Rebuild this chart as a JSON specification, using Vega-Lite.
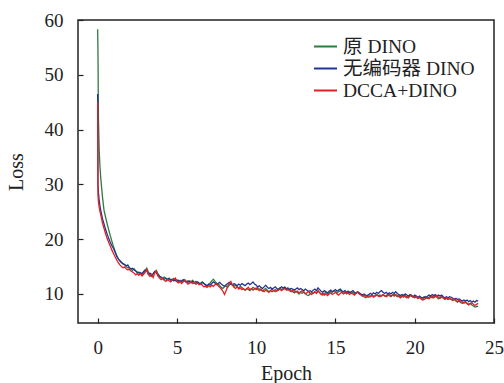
{
  "$schema": "https://vega.github.io/schema/vega-lite/v6.json",
  "width": 416,
  "height": 303,
  "autosize": {"type": "none"},
  "padding": {"left": 78, "top": 20, "right": 10, "bottom": 60},
  "background": "white",
  "config": {
    "view": {"stroke": "#222", "strokeWidth": 1.5},
    "font": "Liberation Serif, Noto Sans CJK SC",
    "axis": {
      "domain": false,
      "grid": false,
      "tickColor": "#222",
      "tickSize": -5,
      "tickWidth": 1.2,
      "labelFont": "Liberation Serif",
      "labelFontSize": 19,
      "labelColor": "#222",
      "titleFont": "Liberation Serif",
      "titleFontSize": 20,
      "titleFontWeight": "normal",
      "titleColor": "#222",
      "labelFlush": false,
      "labelOverlap": false
    },
    "legend": {
      "labelFont": "Liberation Serif, Noto Sans CJK SC",
      "labelFontSize": 19.5,
      "labelColor": "#222",
      "padding": 0
    }
  },
  "data": {
    "values": [
      {"e":0,"g":58.3,"b":46.5,"r":45.0},
      {"e":0.02,"g":54.0,"b":30.0,"r":28.0},
      {"e":0.05,"g":42.0,"b":28.5,"r":26.8},
      {"e":0.1,"g":36.0,"b":27.0,"r":25.8},
      {"e":0.15,"g":33.0,"b":26.0,"r":25.0},
      {"e":0.2,"g":31.0,"b":25.2,"r":24.4},
      {"e":0.3,"g":27.8,"b":23.8,"r":23.0},
      {"e":0.4,"g":25.3,"b":22.8,"r":22.0},
      {"e":0.5,"g":24.0,"b":21.8,"r":21.0},
      {"e":0.6,"g":22.8,"b":20.9,"r":20.1},
      {"e":0.7,"g":21.7,"b":20.1,"r":19.4},
      {"e":0.8,"g":20.6,"b":19.4,"r":18.7},
      {"e":0.9,"g":19.6,"b":18.8,"r":18.0},
      {"e":1.0,"g":18.6,"b":18.3,"r":17.4},
      {"e":1.1,"g":17.8,"b":17.6,"r":16.8},
      {"e":1.2,"g":17.0,"b":16.9,"r":16.2},
      {"e":1.3,"g":16.4,"b":16.4,"r":15.7},
      {"e":1.4,"g":16.0,"b":16.1,"r":15.3},
      {"e":1.5,"g":15.7,"b":15.8,"r":15.0},
      {"e":1.6,"g":15.5,"b":15.5,"r":14.8},
      {"e":1.7,"g":15.3,"b":15.4,"r":14.9},
      {"e":1.8,"g":15.0,"b":15.1,"r":14.6},
      {"e":1.9,"g":14.8,"b":15.3,"r":14.4},
      {"e":2.0,"g":14.7,"b":14.8,"r":14.5},
      {"e":2.1,"g":14.5,"b":14.6,"r":14.2},
      {"e":2.2,"g":14.3,"b":14.7,"r":14.0},
      {"e":2.3,"g":14.6,"b":14.4,"r":13.8},
      {"e":2.4,"g":14.2,"b":14.2,"r":13.5},
      {"e":2.5,"g":13.8,"b":14.0,"r":13.7},
      {"e":2.6,"g":14.0,"b":13.8,"r":13.4},
      {"e":2.7,"g":13.6,"b":13.9,"r":13.8},
      {"e":2.8,"g":13.4,"b":13.7,"r":13.3},
      {"e":2.9,"g":13.8,"b":14.1,"r":13.6},
      {"e":3.0,"g":14.2,"b":14.4,"r":14.0},
      {"e":3.1,"g":14.7,"b":14.2,"r":14.5},
      {"e":3.2,"g":14.0,"b":13.6,"r":13.5},
      {"e":3.3,"g":13.5,"b":13.8,"r":13.2},
      {"e":3.4,"g":13.2,"b":13.4,"r":13.6},
      {"e":3.5,"g":13.6,"b":13.7,"r":13.0},
      {"e":3.6,"g":14.0,"b":14.1,"r":13.8},
      {"e":3.7,"g":14.3,"b":13.8,"r":14.2},
      {"e":3.8,"g":13.7,"b":13.5,"r":13.3},
      {"e":3.9,"g":13.3,"b":13.2,"r":12.9},
      {"e":4.0,"g":13.0,"b":13.1,"r":12.6},
      {"e":4.1,"g":12.9,"b":12.8,"r":12.8},
      {"e":4.2,"g":13.1,"b":12.7,"r":12.5},
      {"e":4.3,"g":12.8,"b":12.9,"r":12.3},
      {"e":4.4,"g":12.7,"b":12.6,"r":12.6},
      {"e":4.5,"g":12.9,"b":12.8,"r":12.4},
      {"e":4.6,"g":12.6,"b":12.5,"r":12.2},
      {"e":4.7,"g":12.5,"b":12.7,"r":12.5},
      {"e":4.8,"g":12.8,"b":12.4,"r":12.7},
      {"e":4.9,"g":12.4,"b":12.6,"r":12.9},
      {"e":5.0,"g":12.6,"b":12.3,"r":12.2},
      {"e":5.1,"g":12.3,"b":12.5,"r":12.0},
      {"e":5.2,"g":12.5,"b":12.2,"r":12.3},
      {"e":5.3,"g":12.2,"b":12.4,"r":11.9},
      {"e":5.4,"g":12.4,"b":12.6,"r":12.2},
      {"e":5.5,"g":12.6,"b":12.3,"r":12.5},
      {"e":5.6,"g":12.3,"b":12.1,"r":12.1},
      {"e":5.7,"g":12.1,"b":12.4,"r":11.8},
      {"e":5.8,"g":12.4,"b":12.2,"r":12.0},
      {"e":5.9,"g":12.2,"b":12.0,"r":12.3},
      {"e":6.0,"g":12.5,"b":12.3,"r":11.9},
      {"e":6.1,"g":12.0,"b":12.1,"r":12.1},
      {"e":6.2,"g":12.3,"b":11.9,"r":11.8},
      {"e":6.3,"g":12.1,"b":12.2,"r":12.0},
      {"e":6.4,"g":11.8,"b":12.0,"r":11.7},
      {"e":6.5,"g":12.0,"b":11.8,"r":11.9},
      {"e":6.6,"g":12.2,"b":12.1,"r":11.6},
      {"e":6.7,"g":11.9,"b":11.9,"r":11.3},
      {"e":6.8,"g":11.6,"b":11.7,"r":11.4},
      {"e":6.9,"g":11.4,"b":11.5,"r":11.2},
      {"e":7.0,"g":11.7,"b":11.8,"r":11.5},
      {"e":7.1,"g":12.0,"b":11.6,"r":11.3},
      {"e":7.2,"g":12.4,"b":11.9,"r":11.6},
      {"e":7.3,"g":12.7,"b":12.2,"r":11.4},
      {"e":7.4,"g":12.3,"b":12.0,"r":11.7},
      {"e":7.5,"g":12.0,"b":11.7,"r":11.9},
      {"e":7.6,"g":11.8,"b":11.9,"r":11.5},
      {"e":7.7,"g":11.5,"b":12.1,"r":11.2},
      {"e":7.8,"g":11.2,"b":11.8,"r":10.9},
      {"e":7.9,"g":11.0,"b":11.6,"r":10.5},
      {"e":8.0,"g":11.3,"b":11.4,"r":9.9},
      {"e":8.1,"g":11.5,"b":11.7,"r":10.6},
      {"e":8.2,"g":11.2,"b":11.9,"r":11.4},
      {"e":8.3,"g":11.6,"b":12.1,"r":12.0},
      {"e":8.4,"g":11.9,"b":11.8,"r":12.3},
      {"e":8.5,"g":11.7,"b":11.6,"r":11.6},
      {"e":8.6,"g":11.4,"b":11.9,"r":11.2},
      {"e":8.7,"g":11.6,"b":11.7,"r":11.0},
      {"e":8.8,"g":11.3,"b":11.5,"r":11.3},
      {"e":8.9,"g":11.1,"b":11.8,"r":10.9},
      {"e":9.0,"g":11.4,"b":11.6,"r":11.1},
      {"e":9.1,"g":11.2,"b":11.9,"r":10.8},
      {"e":9.2,"g":10.9,"b":11.7,"r":11.0},
      {"e":9.3,"g":10.7,"b":11.5,"r":10.7},
      {"e":9.4,"g":11.0,"b":11.8,"r":10.9},
      {"e":9.5,"g":10.8,"b":12.0,"r":11.2},
      {"e":9.6,"g":10.6,"b":11.7,"r":10.8},
      {"e":9.7,"g":10.9,"b":11.9,"r":11.0},
      {"e":9.8,"g":11.2,"b":12.2,"r":10.7},
      {"e":9.9,"g":11.0,"b":11.8,"r":10.9},
      {"e":10.0,"g":10.8,"b":11.6,"r":11.1},
      {"e":10.1,"g":11.1,"b":11.3,"r":10.8},
      {"e":10.2,"g":10.9,"b":11.5,"r":10.6},
      {"e":10.3,"g":10.7,"b":11.2,"r":10.9},
      {"e":10.4,"g":10.5,"b":11.0,"r":10.6},
      {"e":10.5,"g":10.8,"b":11.3,"r":10.4},
      {"e":10.6,"g":11.0,"b":11.6,"r":10.7},
      {"e":10.7,"g":10.7,"b":11.2,"r":10.5},
      {"e":10.8,"g":10.4,"b":11.0,"r":10.3},
      {"e":10.9,"g":10.6,"b":11.2,"r":10.6},
      {"e":11.0,"g":10.9,"b":10.9,"r":10.4},
      {"e":11.1,"g":10.6,"b":11.1,"r":10.6},
      {"e":11.2,"g":10.4,"b":11.3,"r":10.8},
      {"e":11.3,"g":10.7,"b":11.0,"r":10.5},
      {"e":11.4,"g":10.9,"b":10.8,"r":10.7},
      {"e":11.5,"g":11.1,"b":11.1,"r":10.9},
      {"e":11.6,"g":10.8,"b":11.3,"r":10.6},
      {"e":11.7,"g":11.0,"b":11.1,"r":10.8},
      {"e":11.8,"g":11.3,"b":11.2,"r":11.0},
      {"e":11.9,"g":11.0,"b":10.9,"r":10.7},
      {"e":12.0,"g":10.7,"b":11.1,"r":10.9},
      {"e":12.1,"g":10.9,"b":10.8,"r":10.6},
      {"e":12.2,"g":10.6,"b":11.0,"r":10.4},
      {"e":12.3,"g":10.4,"b":10.9,"r":10.7},
      {"e":12.4,"g":10.2,"b":10.7,"r":10.5},
      {"e":12.5,"g":10.5,"b":10.9,"r":10.3},
      {"e":12.6,"g":10.3,"b":11.1,"r":10.5},
      {"e":12.7,"g":10.0,"b":10.8,"r":10.2},
      {"e":12.8,"g":10.3,"b":11.0,"r":10.4},
      {"e":12.9,"g":10.1,"b":10.8,"r":10.6},
      {"e":13.0,"g":10.4,"b":10.6,"r":10.3},
      {"e":13.1,"g":10.1,"b":10.9,"r":10.0},
      {"e":13.2,"g":9.8,"b":10.7,"r":10.2},
      {"e":13.3,"g":9.7,"b":10.4,"r":10.5},
      {"e":13.4,"g":10.0,"b":10.6,"r":10.1},
      {"e":13.5,"g":10.3,"b":10.4,"r":9.9},
      {"e":13.6,"g":10.1,"b":10.7,"r":10.2},
      {"e":13.7,"g":10.4,"b":10.9,"r":10.4},
      {"e":13.8,"g":10.2,"b":10.6,"r":10.1},
      {"e":13.9,"g":10.5,"b":11.1,"r":10.6},
      {"e":14.0,"g":10.2,"b":10.8,"r":10.3},
      {"e":14.1,"g":10.0,"b":10.5,"r":9.9},
      {"e":14.2,"g":9.8,"b":10.3,"r":10.1},
      {"e":14.3,"g":10.1,"b":10.6,"r":9.8},
      {"e":14.4,"g":10.3,"b":10.4,"r":10.0},
      {"e":14.5,"g":10.0,"b":10.2,"r":9.7},
      {"e":14.6,"g":10.2,"b":10.5,"r":10.0},
      {"e":14.7,"g":10.5,"b":10.7,"r":10.2},
      {"e":14.8,"g":10.3,"b":10.4,"r":9.9},
      {"e":14.9,"g":10.6,"b":10.6,"r":10.1},
      {"e":15.0,"g":10.4,"b":10.8,"r":10.3},
      {"e":15.1,"g":10.2,"b":10.5,"r":10.0},
      {"e":15.2,"g":10.4,"b":10.7,"r":9.8},
      {"e":15.3,"g":10.6,"b":10.9,"r":10.1},
      {"e":15.4,"g":10.3,"b":10.6,"r":10.3},
      {"e":15.5,"g":10.1,"b":10.4,"r":10.0},
      {"e":15.6,"g":10.3,"b":10.6,"r":10.2},
      {"e":15.7,"g":10.0,"b":10.3,"r":10.4},
      {"e":15.8,"g":10.2,"b":10.5,"r":10.1},
      {"e":15.9,"g":10.4,"b":10.2,"r":9.9},
      {"e":16.0,"g":10.1,"b":10.4,"r":10.2},
      {"e":16.1,"g":10.3,"b":10.6,"r":10.0},
      {"e":16.2,"g":10.0,"b":10.3,"r":9.8},
      {"e":16.3,"g":10.2,"b":10.1,"r":10.1},
      {"e":16.4,"g":10.4,"b":10.4,"r":10.3},
      {"e":16.5,"g":10.1,"b":10.2,"r":10.0},
      {"e":16.6,"g":9.9,"b":10.0,"r":9.8},
      {"e":16.7,"g":9.7,"b":9.8,"r":9.6},
      {"e":16.8,"g":9.5,"b":10.0,"r":9.8},
      {"e":16.9,"g":9.3,"b":9.8,"r":9.6},
      {"e":17.0,"g":9.5,"b":9.7,"r":9.5},
      {"e":17.1,"g":9.4,"b":9.9,"r":9.7},
      {"e":17.2,"g":9.6,"b":10.1,"r":9.5},
      {"e":17.3,"g":9.8,"b":9.9,"r":9.7},
      {"e":17.4,"g":9.6,"b":10.2,"r":9.4},
      {"e":17.5,"g":9.7,"b":10.0,"r":9.6},
      {"e":17.6,"g":9.9,"b":10.3,"r":9.8},
      {"e":17.7,"g":9.7,"b":10.1,"r":9.6},
      {"e":17.8,"g":9.8,"b":10.4,"r":9.5},
      {"e":17.9,"g":9.6,"b":10.6,"r":9.7},
      {"e":18.0,"g":9.8,"b":10.3,"r":9.9},
      {"e":18.1,"g":9.6,"b":10.1,"r":9.7},
      {"e":18.2,"g":9.7,"b":10.3,"r":9.5},
      {"e":18.3,"g":9.9,"b":10.0,"r":9.7},
      {"e":18.4,"g":9.7,"b":10.2,"r":9.9},
      {"e":18.5,"g":9.5,"b":10.0,"r":9.6},
      {"e":18.6,"g":9.8,"b":10.3,"r":9.8},
      {"e":18.7,"g":10.0,"b":10.1,"r":9.6},
      {"e":18.8,"g":9.7,"b":10.4,"r":9.9},
      {"e":18.9,"g":9.5,"b":10.1,"r":9.7},
      {"e":19.0,"g":9.7,"b":9.9,"r":9.5},
      {"e":19.1,"g":9.4,"b":9.7,"r":9.3},
      {"e":19.2,"g":9.6,"b":9.9,"r":9.6},
      {"e":19.3,"g":9.8,"b":9.7,"r":9.4},
      {"e":19.4,"g":9.5,"b":10.0,"r":9.7},
      {"e":19.5,"g":9.3,"b":9.8,"r":9.5},
      {"e":19.6,"g":9.6,"b":9.6,"r":9.3},
      {"e":19.7,"g":9.8,"b":9.9,"r":9.6},
      {"e":19.8,"g":9.6,"b":9.7,"r":9.8},
      {"e":19.9,"g":9.4,"b":9.5,"r":9.5},
      {"e":20.0,"g":9.6,"b":9.8,"r":9.3},
      {"e":20.1,"g":9.4,"b":9.6,"r":9.5},
      {"e":20.2,"g":9.2,"b":9.4,"r":9.2},
      {"e":20.3,"g":9.4,"b":9.6,"r":9.4},
      {"e":20.4,"g":9.2,"b":9.4,"r":9.1},
      {"e":20.5,"g":9.0,"b":9.3,"r":8.9},
      {"e":20.6,"g":9.3,"b":9.5,"r":9.0},
      {"e":20.7,"g":9.5,"b":9.3,"r":9.2},
      {"e":20.8,"g":9.2,"b":9.6,"r":9.4},
      {"e":20.9,"g":9.4,"b":9.8,"r":9.1},
      {"e":21.0,"g":9.6,"b":9.6,"r":9.4},
      {"e":21.1,"g":9.3,"b":9.9,"r":9.6},
      {"e":21.2,"g":9.5,"b":9.7,"r":9.3},
      {"e":21.3,"g":9.7,"b":9.9,"r":9.5},
      {"e":21.4,"g":9.4,"b":9.6,"r":9.7},
      {"e":21.5,"g":9.1,"b":9.8,"r":9.4},
      {"e":21.6,"g":9.3,"b":9.6,"r":9.2},
      {"e":21.7,"g":9.5,"b":9.8,"r":9.5},
      {"e":21.8,"g":9.2,"b":9.5,"r":9.3},
      {"e":21.9,"g":9.0,"b":9.3,"r":9.1},
      {"e":22.0,"g":9.2,"b":9.5,"r":9.3},
      {"e":22.1,"g":9.0,"b":9.3,"r":9.0},
      {"e":22.2,"g":9.2,"b":9.5,"r":9.2},
      {"e":22.3,"g":9.0,"b":9.4,"r":9.0},
      {"e":22.4,"g":8.8,"b":9.2,"r":8.9},
      {"e":22.5,"g":9.0,"b":9.0,"r":9.1},
      {"e":22.6,"g":8.7,"b":9.2,"r":8.8},
      {"e":22.7,"g":8.5,"b":9.0,"r":8.6},
      {"e":22.8,"g":8.7,"b":9.1,"r":8.9},
      {"e":22.9,"g":8.4,"b":8.9,"r":8.6},
      {"e":23.0,"g":8.3,"b":8.7,"r":8.5},
      {"e":23.1,"g":8.5,"b":8.9,"r":8.3},
      {"e":23.2,"g":8.6,"b":8.7,"r":8.5},
      {"e":23.3,"g":8.3,"b":8.9,"r":8.2},
      {"e":23.4,"g":8.1,"b":8.6,"r":8.0},
      {"e":23.5,"g":8.3,"b":8.8,"r":8.2},
      {"e":23.6,"g":8.0,"b":8.5,"r":8.4},
      {"e":23.7,"g":7.8,"b":8.7,"r":8.1},
      {"e":23.8,"g":7.6,"b":8.5,"r":7.9},
      {"e":23.9,"g":7.7,"b":8.8,"r":8.1},
      {"e":24.0,"g":7.8,"b":8.7,"r":8.3}
    ]
  },
  "transform": [{"fold": ["g", "b", "r"], "as": ["s", "v"]}],
  "mark": {"type": "line", "strokeWidth": 1.3, "clip": true},
  "encoding": {
    "x": {
      "field": "e",
      "type": "quantitative",
      "scale": {"domain": [-1.24, 25], "nice": false, "zero": false},
      "axis": {"values": [0, 5, 10, 15, 20, 25], "title": "Epoch", "labelPadding": 20, "titlePadding": 6}
    },
    "y": {
      "field": "v",
      "type": "quantitative",
      "scale": {"domain": [4.7, 60], "nice": false, "zero": false},
      "axis": {"values": [10, 20, 30, 40, 50, 60], "title": "Loss", "labelPadding": 20, "titlePadding": 18}
    },
    "color": {
      "field": "s",
      "type": "nominal",
      "scale": {"domain": ["g", "b", "r"], "range": ["#2b7d3f", "#22368f", "#e41e26"]},
      "legend": {
        "title": null,
        "orient": "none",
        "legendX": 235,
        "legendY": 14,
        "symbolType": "stroke",
        "symbolSize": 529,
        "symbolStrokeWidth": 2,
        "rowPadding": 0,
        "labelOffset": 5,
        "labelExpr": "datum.value == 'g' ? '原 DINO' : datum.value == 'b' ? '无编码器 DINO' : 'DCCA+DINO'"
      }
    }
  }
}
